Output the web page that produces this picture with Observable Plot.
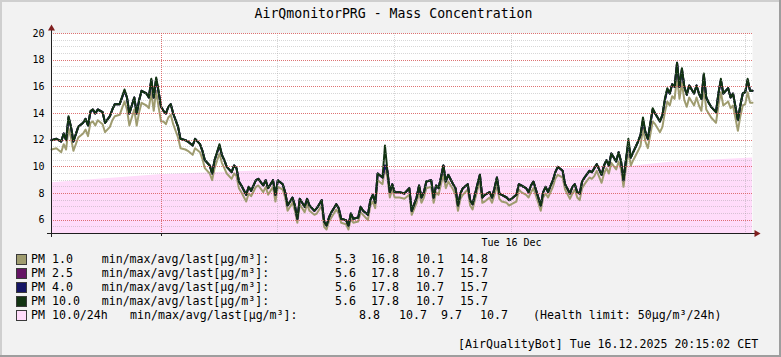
<!DOCTYPE html>
<html><head><meta charset="utf-8">
<script src="https://cdn.jsdelivr.net/npm/d3@7"></script>
<script src="https://cdn.jsdelivr.net/npm/@observablehq/plot@0.6"></script>
<style>
body{margin:0;background:#f2f2f2}
#chart{position:relative;width:781px;height:357px;background:#f2f2f2;overflow:hidden;font-family:"DejaVu Sans Mono",monospace;color:#000}
#chart .abs{position:absolute;white-space:pre}
#chart svg{position:absolute;left:0;top:0;overflow:visible}
.row{font-size:11.6px;line-height:14px;height:14px}
.sw{position:absolute;width:9px;height:9px;border:1px solid #3a3a3a}
</style></head><body><div id="chart"></div>
<script>
// ---- data (5-minute slot index since Mon 15 Dec 2025 20:15 CET) ----
const slots = [
0,2,4,5,6,7,8,9,11,13,
14,15,16,17,18,19,21,22,24,25,
26,28,30,31,32,34,35,36,37,39,
40,41,42,43,44,45,46,47,48,49,
50,52,53,55,56,58,59,61,62,63,
65,66,67,69,70,71,72,74,75,76,
77,78,80,81,82,84,85,87,88,89,
91,92,93,95,96,97,99,100,101,102,
104,105,106,108,109,111,112,113,114,115,
117,118,119,121,122,123,124,126,127,128,
130,131,132,133,134,136,137,138,139,140,
141,143,145,147,148,150,151,152,153,154,
156,157,158,159,160,161,162,163,165,166,
167,168,169,171,172,173,175,176,177,178,
180,181,182,183,184,185,187,188,189,191,
192,193,195,196,197,198,200,201,202,203,
204,206,207,208,210,211,213,214,215,216,
217,218,219,221,222,223,224,226,227,228,
229,230,232,233,234,235,236,237,238,239,
241,242,243,244,245,247,248,250,251,252,
253,254,255,256,257,258,259,260,261,262,
264,265,266,267,268,269,270,271,273,274,
275,276,278,279,280,282,283,284,285,286,
287,288];
const pm10 = [
12.0,12.1,11.9,12.5,12.0,13.8,13.0,11.9,13.0,13.3,
13.6,13.1,14.2,14.3,14.0,14.3,14.1,13.3,13.8,14.3,
14.7,14.7,15.8,15.2,14.0,15.2,14.0,15.0,15.7,15.5,
15.2,16.6,15.2,16.7,15.7,14.5,14.2,14.0,14.5,14.7,
14.0,13.0,12.1,12.0,11.9,11.6,12.1,11.7,11.2,10.5,
10.1,9.5,10.5,11.7,10.9,10.5,10.0,9.6,10.1,9.9,
8.9,8.6,7.9,8.5,8.2,9.0,9.1,8.6,9.0,8.4,
9.0,7.9,9.0,8.7,8.1,7.1,7.7,7.1,6.1,7.6,
7.0,7.6,7.1,6.7,6.9,7.5,5.9,5.6,6.2,6.6,
7.2,6.9,6.1,6.0,5.6,6.5,6.1,6.2,7.0,6.7,
6.4,7.5,7.9,7.3,9.5,9.2,11.6,9.7,8.1,8.7,
8.1,8.1,8.0,8.4,6.7,7.7,8.6,7.7,8.1,8.9,
9.0,7.7,8.6,8.4,9.2,10.1,8.9,9.4,8.7,8.4,
7.1,8.0,8.4,8.7,7.5,7.2,8.7,9.4,7.7,7.9,
8.1,7.7,8.4,9.2,8.0,7.9,7.7,7.5,7.6,7.9,
8.7,8.6,8.4,8.1,8.6,8.9,7.7,7.1,8.1,8.5,
8.1,9.0,9.6,10.0,9.7,8.7,8.0,8.5,8.7,8.1,
8.0,8.9,9.2,9.7,9.6,9.9,10.2,9.4,10.1,10.5,
10.1,11.0,10.4,11.1,10.4,9.0,10.5,12.1,10.7,11.1,
11.9,12.4,13.7,12.6,12.1,14.4,14.0,13.4,13.9,15.1,
15.9,15.5,16.2,16.0,17.8,16.0,17.4,16.0,15.4,16.1,
15.5,16.1,15.5,15.1,17.0,15.2,14.8,14.5,14.1,15.5,
16.6,15.5,15.9,15.2,15.5,13.5,14.6,15.5,15.6,16.6,
15.7,15.7];
const pm40 = [
12.0,12.1,11.9,12.5,12.0,13.7,13.0,11.9,13.0,13.3,
13.6,13.1,14.1,14.3,14.0,14.3,14.1,13.3,13.8,14.3,
14.7,14.7,15.7,15.2,14.0,15.2,14.0,15.0,15.7,15.5,
15.2,16.5,15.2,16.6,15.6,14.5,14.2,14.0,14.5,14.7,
14.0,13.0,12.1,12.0,11.9,11.6,12.1,11.7,11.2,10.5,
10.1,9.5,10.5,11.6,10.9,10.5,10.0,9.6,10.1,9.9,
8.9,8.6,7.9,8.5,8.2,9.0,9.1,8.6,9.0,8.4,
9.0,7.9,9.0,8.7,8.1,7.1,7.7,7.1,6.1,7.6,
7.0,7.6,7.1,6.7,6.9,7.5,5.9,5.6,6.2,6.6,
7.2,6.9,6.1,6.0,5.6,6.5,6.1,6.2,7.0,6.7,
6.4,7.5,7.9,7.3,9.5,9.2,10.1,9.7,8.1,8.7,
8.1,8.1,8.0,8.4,6.7,7.7,8.6,7.7,8.1,8.9,
9.0,7.7,8.6,8.4,9.2,10.1,8.9,9.4,8.7,8.4,
7.1,8.0,8.4,8.7,7.5,7.2,8.7,9.4,7.7,7.9,
8.1,7.7,8.4,9.2,8.0,7.9,7.7,7.5,7.6,7.9,
8.7,8.6,8.4,8.1,8.6,8.9,7.7,7.1,8.1,8.5,
8.1,9.0,9.6,10.0,9.7,8.7,8.0,8.5,8.7,8.1,
8.0,8.9,9.2,9.7,9.6,9.9,10.2,9.4,10.1,10.5,
10.1,11.0,10.4,11.1,10.4,9.0,10.5,11.8,10.7,11.1,
11.9,12.4,13.5,12.6,12.1,14.3,14.0,13.4,13.9,15.0,
15.8,15.5,16.2,16.0,17.8,16.0,17.3,16.0,15.4,16.1,
15.5,16.1,15.5,15.1,16.9,15.2,14.8,14.5,14.1,15.5,
16.5,15.5,15.9,15.2,15.5,13.5,14.6,15.5,15.6,16.5,
15.7,15.7];
const pm25 = [
12.0,12.1,11.9,12.5,12.0,13.7,13.0,11.9,13.0,13.3,
13.6,13.1,14.1,14.3,14.0,14.3,14.1,13.3,13.8,14.3,
14.7,14.7,15.7,15.2,14.0,15.2,14.0,15.0,15.7,15.5,
15.2,16.5,15.2,16.6,15.6,14.5,14.2,14.0,14.5,14.7,
14.0,13.0,12.1,12.0,11.9,11.6,12.1,11.7,11.2,10.5,
10.1,9.5,10.5,11.6,10.9,10.5,10.0,9.6,10.1,9.9,
8.9,8.6,7.9,8.5,8.2,9.0,9.1,8.6,9.0,8.4,
9.0,7.9,9.0,8.7,8.1,7.1,7.7,7.1,6.1,7.6,
7.0,7.6,7.1,6.7,6.9,7.5,5.9,5.6,6.2,6.6,
7.2,6.9,6.1,6.0,5.6,6.5,6.1,6.2,7.0,6.7,
6.4,7.5,7.9,7.3,9.5,9.2,10.1,9.7,8.1,8.7,
8.1,8.1,8.0,8.4,6.7,7.7,8.6,7.7,8.1,8.9,
9.0,7.7,8.6,8.4,9.2,10.1,8.9,9.4,8.7,8.4,
7.1,8.0,8.4,8.7,7.5,7.2,8.7,9.4,7.7,7.9,
8.1,7.7,8.4,9.2,8.0,7.9,7.7,7.5,7.6,7.9,
8.7,8.6,8.4,8.1,8.6,8.9,7.7,7.1,8.1,8.5,
8.1,9.0,9.6,10.0,9.7,8.7,8.0,8.5,8.7,8.1,
8.0,8.9,9.2,9.7,9.6,9.9,10.2,9.4,10.1,10.5,
10.1,11.0,10.4,11.1,10.4,9.0,10.5,11.8,10.7,11.1,
11.9,12.4,13.5,12.6,12.1,14.3,14.0,13.4,13.9,15.0,
15.8,15.5,16.2,16.0,17.8,16.0,17.3,16.0,15.4,16.1,
15.5,16.1,15.5,15.1,16.9,15.2,14.8,14.5,14.1,15.5,
16.5,15.5,15.9,15.2,15.5,13.5,14.6,15.5,15.6,16.5,
15.7,15.7];
const pm1 = [
11.3,11.4,11.1,11.7,11.3,12.9,12.2,11.2,12.2,12.5,
12.8,12.3,13.3,13.4,13.1,13.5,13.2,12.6,13.0,13.5,
13.8,13.9,14.9,14.3,13.1,14.3,13.1,14.1,14.8,14.6,
14.4,15.6,14.2,15.7,14.5,13.4,13.4,13.2,13.7,13.9,
13.2,12.2,11.4,11.3,11.2,10.9,11.4,11.1,10.6,9.9,
9.5,9.0,9.9,11.0,10.3,9.9,9.5,9.1,9.5,9.3,
8.4,8.1,7.4,8.0,7.8,8.5,8.6,8.1,8.5,7.9,
8.5,7.4,8.5,8.3,7.7,6.7,7.3,6.7,5.8,7.2,
6.6,7.2,6.7,6.4,6.5,7.1,5.5,5.3,5.9,6.2,
6.8,6.5,5.8,5.7,5.3,6.1,5.8,5.9,6.6,6.4,
6.0,7.1,7.4,6.9,9.0,8.7,9.9,9.2,7.7,8.3,
7.7,7.7,7.6,7.9,6.4,7.3,8.1,7.3,7.7,8.4,
8.5,7.3,8.1,7.9,8.7,9.4,8.4,8.9,8.3,7.9,
6.7,7.6,7.9,8.3,7.1,6.8,8.3,8.8,7.3,7.4,
7.7,7.3,7.9,8.6,7.6,7.4,7.3,7.1,7.2,7.4,
8.3,8.1,7.9,7.7,8.1,8.4,7.3,6.7,7.7,8.0,
7.7,8.5,9.1,9.4,9.2,8.3,7.6,8.0,8.3,7.7,
7.5,8.4,8.7,9.2,9.1,9.3,9.7,8.8,9.5,9.9,
9.5,10.3,9.8,10.4,9.8,8.5,9.9,11.2,10.1,10.5,
11.2,11.6,12.9,11.9,11.4,13.4,13.2,12.6,13.0,14.1,
14.9,14.6,15.3,15.1,16.8,15.1,16.3,15.0,14.5,15.2,
14.6,15.2,14.6,14.2,16.0,14.3,14.0,13.7,13.3,14.6,
15.6,14.6,14.9,14.4,14.6,12.7,13.8,14.6,14.7,15.6,
14.8,14.8];
// PM10.0 rolling 24h average (area)
const avgSlots = [0,22,44,71,100,140,180,214,236,254,270,288];
const pm10avg24 = [8.8,9.1,9.4,9.6,9.78,9.8,9.82,9.87,10.0,10.35,10.5,10.67];

// ---- labels ----
const titleText = "AirQmonitorPRG - Mass Concentration";
const yTicks = [6,8,10,12,14,16,18,20];
const xLabelText = "Tue 16 Dec";
const legendNames = ["PM 1.0","PM 2.5","PM 4.0","PM 10.0","PM 10.0/24h"];
const legendColors = ["#9f9c6f","#641464","#141464","#123412","#ffdcfa"];
const legendUnit = "min/max/avg/last[µg/m³]:";
const legendStats = [
  ["5.3","16.8","10.1","14.8"],
  ["5.6","17.8","10.7","15.7"],
  ["5.6","17.8","10.7","15.7"],
  ["5.6","17.8","10.7","15.7"],
  ["8.8","10.7","9.7","10.7"]
];
const healthNote = "(Health limit: 50µg/m³/24h)";
const footer = "[AirQualityBot] Tue 16.12.2025 20:15:02 CET";

// ---- build ----
const start = new Date(Date.UTC(2025,11,15,20,15));
const end = new Date(Date.UTC(2025,11,16,20,15));
const at = s => new Date(start.getTime() + s*300000);
const rows = slots.map((s,i)=>({time:at(s), pm1:pm1[i], pm25:pm25[i], pm40:pm40[i], pm10:pm10[i]}));
const avgRows = avgSlots.map((s,i)=>({time:at(s), v:pm10avg24[i]}));
const xMajor = [new Date(Date.UTC(2025,11,16,0,0))];
const xMinor = [4,8,12,16,20].map(h=>new Date(Date.UTC(2025,11,16,h,0)));
const xLabelAt = [new Date(Date.UTC(2025,11,16,12,0))];
const yMinor = d3.range(5.5,20,0.5).filter(v=>v%2!==0);

const gridC = "rgba(150,150,150,0.38)", mgridC = "#d85a5a";
const axisC = "#1f1f1f", arrowC = "#801f1f";
const crisp = {shapeRendering:"crispEdges", strokeDasharray:"1,1"};

const plot = Plot.plot({
  width:781, height:250,
  marginTop:33, marginLeft:51, marginRight:29, marginBottom:17,
  style:{background:"transparent", fontFamily:"DejaVu Sans Mono", fontSize:"10px", color:"#000"},
  x:{type:"utc", domain:[start,end]},
  y:{domain:[5,20], clamp:true},
  marks:[
    Plot.frame({fill:"white", stroke:null}),
    Plot.areaY(avgRows, {x:"time", y:"v", fill:legendColors[4]}),
    Plot.lineY(rows, {x:"time", y:"pm1", stroke:legendColors[0], strokeWidth:2}),
    Plot.lineY(rows, {x:"time", y:"pm25", stroke:legendColors[1], strokeWidth:2}),
    Plot.lineY(rows, {x:"time", y:"pm40", stroke:legendColors[2], strokeWidth:2}),
    Plot.lineY(rows, {x:"time", y:"pm10", stroke:legendColors[3], strokeWidth:2}),
    Plot.ruleY(yMinor, {stroke:gridC, ...crisp}),
    Plot.ruleX(xMinor, {stroke:gridC, ...crisp}),
    Plot.ruleY(yTicks, {stroke:mgridC, strokeOpacity:0.85, ...crisp}),
    Plot.ruleX(xMajor, {stroke:mgridC, strokeOpacity:0.85, ...crisp}),
    Plot.axisY(yTicks, {tickSize:0, tickPadding:7, label:null, fontSize:10}),
    Plot.axisX(xLabelAt, {tickSize:0, tickPadding:5, label:null, tickFormat:()=>xLabelText, fontSize:10}),
    Plot.axisX(xMajor, {tickSize:3, label:null, tickFormat:()=>"", stroke:axisC, shapeRendering:"crispEdges"}),
    Plot.ruleX([start], {stroke:axisC, insetTop:-3, insetBottom:-4, shapeRendering:"crispEdges"}),
    Plot.ruleY([5], {stroke:axisC, insetLeft:-4, insetRight:-3, shapeRendering:"crispEdges"}),
    Plot.dot([{t:start, v:20}], {x:"t", y:"v", symbol:"triangle", r:2.6, dy:-5, fill:arrowC, stroke:null}),
    Plot.dot([{t:end, v:5}], {x:"t", y:"v", symbol:"triangle", r:2.6, dx:4, rotate:90, fill:arrowC, stroke:null})
  ]
});

const chart = document.getElementById("chart");
chart.appendChild(plot);

function add(html, style, cls){
  const d = document.createElement("div");
  d.className = "abs " + (cls||"");
  d.textContent = html;
  Object.assign(d.style, style);
  chart.appendChild(d);
  return d;
}
// 3D border
[["0px","0px","781px","2px","#cfcfcf"],["0px","0px","2px","357px","#cfcfcf"],
 ["0px","355px","781px","2px","#9e9e9e"],["779px","0px","2px","357px","#9e9e9e"]].forEach(([l,t,w,h,c])=>{
  const d=document.createElement("div"); Object.assign(d.style,{position:"absolute",left:l,top:t,width:w,height:h,background:c}); chart.appendChild(d);
});
add(titleText, {left:"393.5px", top:"5px", transform:"translateX(-50%)", fontSize:"13.2px", lineHeight:"18px"});

const rowY = [259.3,273.3,287.3,301.3,315.3];
const valRight = [[356,399,444,488],[356,399,444,488],[356,399,444,488],[356,399,444,488],[380,427,462,508]];
legendNames.forEach((n,i)=>{
  const y = rowY[i];
  const sw = document.createElement("div"); sw.className="sw";
  Object.assign(sw.style,{left:"16px", top:(y-5)+"px", background:legendColors[i]});
  chart.appendChild(sw);
  add(n, {left:"31px", top:(y-7)+"px"}, "row");
  add(legendUnit, {left:(i<4?101.7:130)+"px", top:(y-7)+"px"}, "row");
  legendStats[i].forEach((v,j)=>{
    add(v, {right:(781-valRight[i][j])+"px", top:(y-7)+"px"}, "row");
  });
});
add(healthNote, {left:"533px", top:(rowY[4]-7)+"px"}, "row");
add(footer, {left:"458px", top:(344.3-7)+"px"}, "row");
</script></body></html>
